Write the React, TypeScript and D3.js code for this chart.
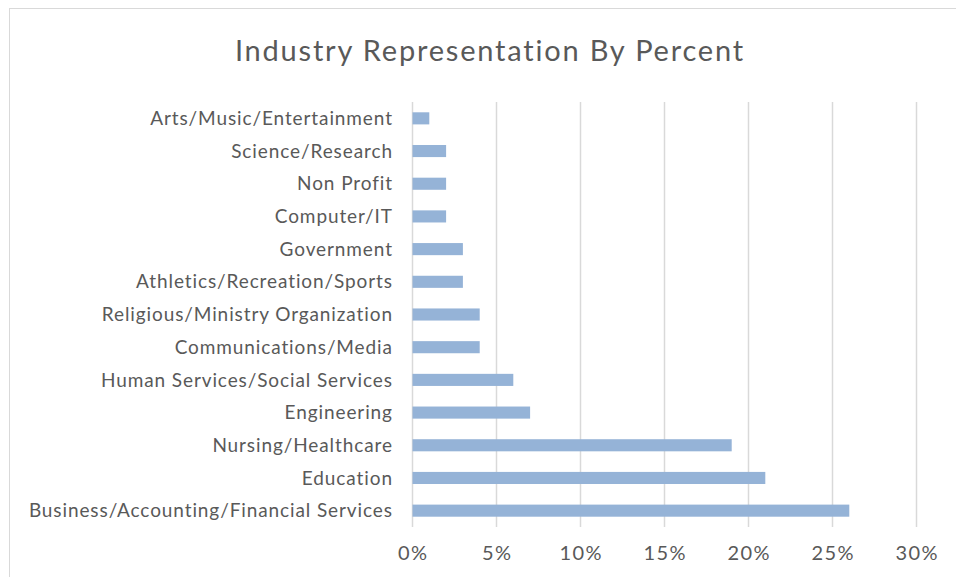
import React, { useEffect, useRef } from "react";
import * as d3 from "d3";

const categories = [
  "Arts/Music/Entertainment",
  "Science/Research",
  "Non Profit",
  "Computer/IT",
  "Government",
  "Athletics/Recreation/Sports",
  "Religious/Ministry Organization",
  "Communications/Media",
  "Human Services/Social Services",
  "Engineering",
  "Nursing/Healthcare",
  "Education",
  "Business/Accounting/Financial Services",
];
const percents = [1, 2, 2, 2, 3, 3, 4, 4, 6, 7, 19, 21, 26];
const tickValues = [0, 5, 10, 15, 20, 25, 30];
const title = "Industry Representation By Percent";

const W = 956;
const H = 577;
const FONT = "Lato, 'Open Sans', sans-serif";

export default function App() {
  const ref = useRef<SVGSVGElement>(null);
  useEffect(() => {
    const svg = d3.select(ref.current);
    svg.selectAll("*").remove();
    const left = 412.5, right = 916.5, top = 102, bottom = 527;
    const x = d3.scaleLinear().domain([0, 30]).range([left, right]);
    const y = d3.scaleBand().domain(categories).range([top, bottom]).paddingInner(0.63).paddingOuter(0.315);

    svg.append("rect").attr("x", 9.5).attr("y", 8.5).attr("width", 960).attr("height", 600)
      .attr("fill", "#fff").attr("stroke", "#D9D9D9").attr("stroke-width", 1);

    svg.append("text").attr("x", 489.9).attr("y", 61).attr("text-anchor", "middle")
      .attr("font-family", FONT).attr("font-size", 29).attr("letter-spacing", 1.8)
      .attr("fill", "#595959").text(title);

    svg.append("g").selectAll("line").data(tickValues).join("line")
      .attr("x1", d => x(d)).attr("x2", d => x(d)).attr("y1", top).attr("y2", bottom)
      .attr("stroke", "#D9D9D9").attr("stroke-width", 1.5);

    svg.append("g").selectAll("rect").data(categories).join("rect")
      .attr("x", x(0)).attr("y", d => y(d)!).attr("height", y.bandwidth())
      .attr("width", (d, i) => x(percents[i]) - x(0)).attr("fill", "#95B3D7");

    svg.append("g").selectAll("text").data(categories).join("text")
      .attr("x", 392.9).attr("y", d => y(d)! + y.bandwidth() / 2).attr("dy", "0.35em")
      .attr("text-anchor", "end").attr("font-family", FONT).attr("font-size", 19)
      .attr("letter-spacing", 0.9).attr("fill", "#595959").text(d => d);

    svg.append("g").selectAll("text").data(tickValues).join("text")
      .attr("x", d => x(d) + 0.75).attr("y", 553).attr("dy", "0.35em").attr("text-anchor", "middle")
      .attr("font-family", FONT).attr("font-size", 20).attr("letter-spacing", 1.5)
      .attr("fill", "#595959").text(d => d3.format("d")(d) + "%");
  }, []);
  return (
    <div style={{ position: "fixed", left: 0, top: 0 }}>
      <svg ref={ref} width={W} height={H} style={{ display: "block", background: "#fff" }} />
    </div>
  );
}
